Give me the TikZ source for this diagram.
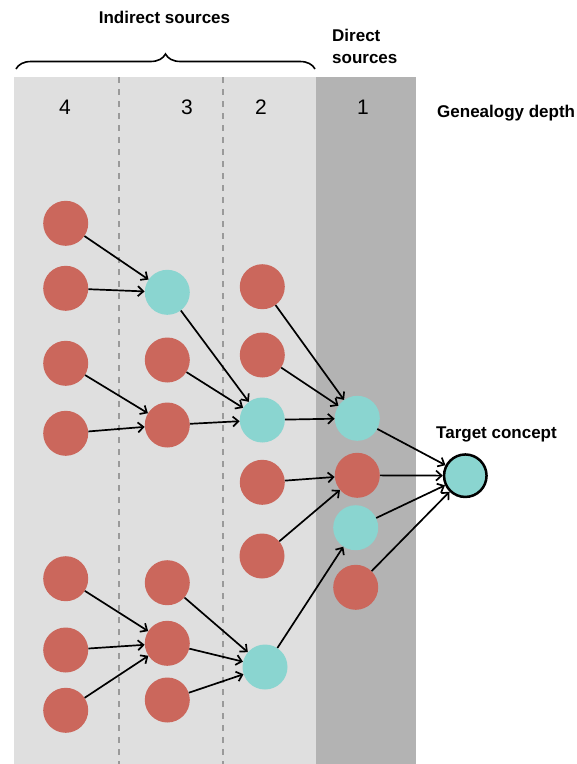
\documentclass[tikz,border=0pt]{standalone}
\usepackage{fontspec}
\setmainfont{Liberation Sans}
\usetikzlibrary{arrows.meta,decorations.pathreplacing}
\definecolor{nred}{HTML}{CB675C}
\definecolor{ncyan}{HTML}{8AD5D0}
\definecolor{lgray}{HTML}{DFDFDF}
\definecolor{dgray}{HTML}{B3B3B3}
\definecolor{dashgray}{HTML}{9A9A9A}
\tikzset{
  dot/.style={circle,minimum size=45pt,inner sep=0pt,draw=none},
  rdot/.style={dot,fill=nred},
  cdot/.style={dot,fill=ncyan},
  tdot/.style={circle,minimum size=42.5pt,inner sep=0pt,fill=ncyan,draw=black,line width=2.5pt},
  conn/.style={line width=1.7pt,-{Straight Barb[length=5.5pt,width=10pt,line width=1.7pt]}},
  lab/.style={font=\fontsize{17}{21}\selectfont\bfseries,inner sep=0pt},
  num/.style={font=\fontsize{21}{25}\selectfont,inner sep=0pt},
  sep/.style={dashgray,line width=1.5pt,dash pattern=on 6pt off 6pt}
}
\begin{document}
\begin{tikzpicture}[x=1pt,y=-1pt]
\useasboundingbox (0,0) rectangle (577,764);
% background columns
\fill[lgray] (14,77) rectangle (316,764);
\fill[dgray] (316,77) rectangle (416,764);
\coordinate (s1t) at (119,77); \coordinate (s1b) at (119,764);
\coordinate (s2t) at (223,77); \coordinate (s2b) at (223,764);
\draw[sep] (s1t) -- (s1b);
\draw[sep] (s2t) -- (s2b);
% brace
\coordinate (bl) at (16,69); \coordinate (br) at (315,69);
\draw[line width=1.6pt,decorate,decoration={brace,amplitude=15pt}] (bl) -- (br);
% labels
\node[lab,anchor=base] (ind) at (164.5,23) {Indirect sources};
\node[lab,anchor=base west] (dir1) at (332,41) {Direct};
\node[lab,anchor=base west] (dir2) at (332,63) {sources};
\node[lab,anchor=base west] (gd) at (437,117) {Genealogy depth};
\node[lab,anchor=base west] (tc) at (436,438) {Target concept};
\node[num] (n4) at (65,107) {4};
\node[num] (n3) at (187,107) {3};
\node[num] (n2) at (261,107) {2};
\node[num] (n1) at (363,107) {1};
% column 4
\node[rdot] (a1) at (65.7,223.3) {};
\node[rdot] (a2) at (65.7,288.3) {};
\node[rdot] (a3) at (65.7,363.3) {};
\node[rdot] (a4) at (65.7,433.3) {};
\node[rdot] (e1) at (65.7,578.7) {};
\node[rdot] (e2) at (65.7,650) {};
\node[rdot] (e3) at (65.7,710.3) {};
% column 3
\node[cdot] (b1) at (167.3,292.3) {};
\node[rdot] (b2) at (167.3,360) {};
\node[rdot] (b3) at (167.3,425) {};
\node[rdot] (f1) at (167.3,582.7) {};
\node[rdot] (f2) at (167.3,643.3) {};
\node[rdot] (f3) at (167.3,700) {};
% column 2
\node[rdot] (c1) at (262.3,286.7) {};
\node[rdot] (c2) at (262.3,355) {};
\node[cdot] (c3) at (262.3,420) {};
\node[rdot] (c4) at (262.3,482.3) {};
\node[rdot] (c5) at (262,556) {};
\node[cdot] (g) at (265,667) {};
% column 1
\node[cdot] (d1) at (357.3,418.3) {};
\node[rdot] (d2) at (357.3,475.3) {};
\node[cdot] (d3) at (355.7,527.7) {};
\node[rdot] (d4) at (355.7,587.3) {};
% target
\node[tdot] (t) at (465.3,475.7) {};
% connectors
\draw[conn] (a1) -- (b1);
\draw[conn] (a2) -- (b1);
\draw[conn] (a3) -- (b3);
\draw[conn] (a4) -- (b3);
\draw[conn] (b1) -- (c3);
\draw[conn] (b2) -- (c3);
\draw[conn] (b3) -- (c3);
\draw[conn] (c1) -- (d1);
\draw[conn] (c2) -- (d1);
\draw[conn] (c3) -- (d1);
\draw[conn] (c4) -- (d2);
\draw[conn] (c5) -- (d2);
\draw[conn] (g) -- (d3);
\draw[conn] (e1) -- (f2);
\draw[conn] (e2) -- (f2);
\draw[conn] (e3) -- (f2);
\draw[conn] (f1) -- (g);
\draw[conn] (f2) -- (g);
\draw[conn] (f3) -- (g);
\draw[conn] (d1) -- (t);
\draw[conn] (d2) -- (t);
\draw[conn] (d3) -- (t);
\draw[conn] (d4) -- (t);
\end{tikzpicture}
\end{document}
